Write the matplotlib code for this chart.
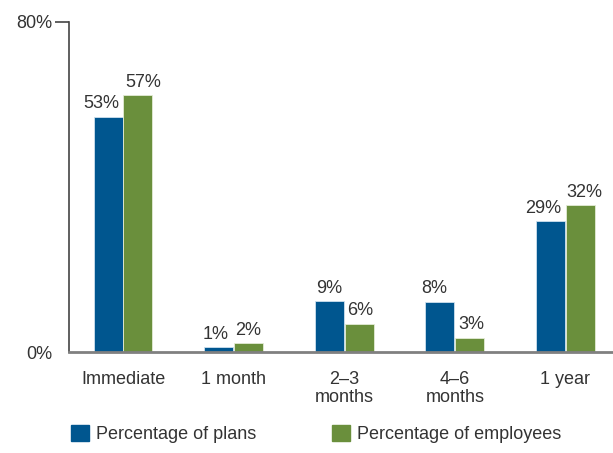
import numpy as np
import matplotlib.pyplot as plt
from matplotlib.patches import Patch

categories = ['Immediate', '1 month', '2\u20133\nmonths', '4\u20136\nmonths', '1 year']
plans_labels = ['53%', '1%', '9%', '8%', '29%']
employees_labels = ['57%', '2%', '6%', '3%', '32%']
# bar heights as drawn in the original (on the 0-80% axis)
plans = [57.1, 1.4, 12.5, 12.3, 31.8]
employees = [62.3, 2.2, 7.0, 3.6, 35.7]

# small sideways nudges (points) so neighbouring labels don't collide
plans_nudge = [-5, -2, 0, -4, -5]
employees_nudge = [4, 0, 1, 1, 3]

blue = '#00568f'
green = '#6a8f3c'
text_col = '#333333'

plt.rcParams['font.family'] = ['Liberation Sans', 'DejaVu Sans']

fig = plt.figure(figsize=(6.13, 4.53), dpi=100)
ax = fig.add_axes([0.1126, 0.2219, 0.8874, 0.7296])

x = np.arange(len(categories))
w = 0.262
b1 = ax.bar(x - 0.135, plans, w, color=blue, edgecolor='#cfe0ee', linewidth=0.6)
b2 = ax.bar(x + 0.135, employees, w, color=green, edgecolor='#e3ecd6', linewidth=0.6)

for bars, labels, nudge in [(b1, plans_labels, plans_nudge), (b2, employees_labels, employees_nudge)]:
    for bar, lab, dx in zip(bars, labels, nudge):
        ax.annotate(lab, (bar.get_x() + bar.get_width() / 2, bar.get_height()),
                    xytext=(dx, 3), textcoords='offset points',
                    ha='center', va='bottom', fontsize=13, color=text_col)

ax.set_xlim(-0.488, 4.43)
ax.set_ylim(0, 80)
ax.set_yticks([0, 80])
ax.set_yticklabels(['0%', '80%'], fontsize=13, color=text_col)
ax.tick_params(axis='y', length=10, width=1.2, color='#444444', pad=2)
ax.yaxis.get_major_ticks()[0].tick1line.set_visible(False)

ax.set_xticks(x)
ax.set_xticklabels(categories, fontsize=13, color=text_col, linespacing=1.12, va='top')
ax.tick_params(axis='x', length=0, pad=13)

for s in ['top', 'right']:
    ax.spines[s].set_visible(False)
ax.spines['left'].set_color('#444444')
ax.spines['left'].set_linewidth(1.2)
ax.spines['bottom'].set_color('#808080')
ax.spines['bottom'].set_linewidth(2)

handles = [Patch(color=blue, label='Percentage of plans'),
           Patch(color=green, label='Percentage of employees')]
fig.legend(handles=handles, loc='lower left', bbox_to_anchor=(0.089, -0.014), ncol=2,
           frameon=False, fontsize=13, handlelength=1.0, handleheight=1.0,
           handletextpad=0.4, columnspacing=4.2, labelcolor=text_col)

fig.savefig('out.png', dpi=100)
